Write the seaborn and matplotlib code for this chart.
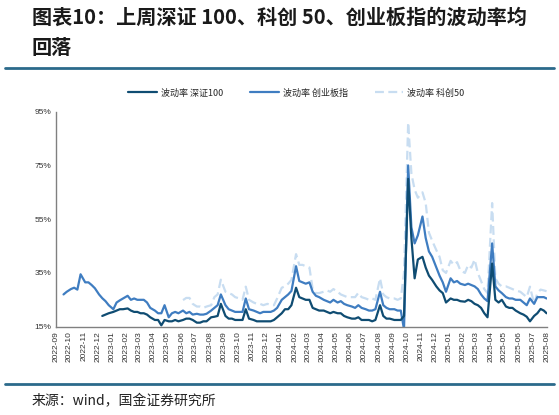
import numpy as np
import pandas as pd
import seaborn as sns
import matplotlib.pyplot as plt
import matplotlib.dates as mdates
from matplotlib.ticker import FuncFormatter

nan = np.nan

# sample days inside each month, Sep 2022 .. Jul 2025, plus the last day
months = pd.date_range('2022-09-01', '2025-07-01', freq='MS')
days = [4, 11, 18, 25]
dates = [m + pd.Timedelta(days=d - 1) for m in months for d in days] + [pd.Timestamp('2025-07-31')]

# 波动率 深证100 (%)
szse100 = [
    nan, nan, nan, nan,        # 2022-09
    nan, nan, nan, nan,        # 2022-10
    nan, nan, nan, nan,        # 2022-11
    nan, 19, 19.5, 20,         # 2022-12
    20.5, 21, 21.5, 21.5,      # 2023-01
    21.8, 21, 20.5, 20.5,
    20, 20, 19.5, 18.5,
    17.5, 17.5, 15.5, 17.5,
    17, 17, 17.5, 17,
    17.5, 18, 18, 17.5,
    16.5, 16.5, 17, 17,
    18.5, 18.7, 19, 23.5,
    19, 18, 18, 17.5,
    17.5, 17.5, 21.5, 18,
    17.5, 17, 17, 17,
    17, 17, 17.5, 18.5,        # 2023-12
    20, 21.5, 21.5, 23,        # 2024-01
    29.5, 26, 25.5, 25,
    25, 22, 21.5, 21,
    21, 20.5, 20, 20.5,
    20, 20, 19, 18.5,
    18, 18, 18.5, 17.5,
    17.5, 17.5, 17, 17.5,
    23, 19, 18, 18,
    17.5, 17.5, 17.5, 19,
    70, 48, 33, 40,
    41, 37, 34, 32.4,
    30, 28.5, 27.5, 24,        # 2024-12
    25.5, 25, 25, 24.5,        # 2025-01
    24.3, 25, 24.5, 23.5,
    23, 22, 20, 18.5,
    38.5, 25, 24, 25,
    22.5, 22, 22, 21,
    20, 19.5, 18.7, 17,
    19, 20, 21.6, 21,          # 2025-07
    20,
]

# 波动率 创业板指 (%)
chinext = [
    nan, nan, 27, 28,          # 2022-09
    29, 29.5, 28.8, 34.5,
    31.5, 31.5, 30.5, 29.3,
    27, 25.6, 24.5, 23,
    21.5, 24, 24.8, 25.5,      # 2023-01
    26.5, 25, 25.5, 25,
    25, 25, 24, 22,
    21, 20, 20, 23,
    18.5, 20, 20.5, 20,
    21, 20, 20.5, 19.5,
    19.8, 19.5, 19.5, 19.8,
    21, 22, 23, 27,
    23, 21.5, 21, 20.5,
    20.5, 20.5, 25.5, 21.5,
    21, 20.5, 20, 20.5,
    20.5, 20.5, 21, 22,
    25, 26, 27, 28.3,          # 2024-01
    37.5, 32, 31.5, 31,
    31.5, 28, 26.5, 26,
    25, 24.5, 24, 25,
    24, 24.5, 23.5, 23,
    22.5, 22, 23, 22,
    21.5, 21, 21, 21.5,
    28, 23, 22, 21.5,
    21.5, 21, 21, 14,
    75, 52, 46, 49,
    56, 48, 43, 41,
    37, 34, 31.5, 28,
    33, 31.5, 32, 31,          # 2025-01
    30.5, 31, 30.5, 30,
    29, 27, 25.5, 24.5,
    46, 30, 28.5, 27.5,
    26, 25.5, 25.5, 25,
    25, 24, 23, 25.5,
    23.5, 26, 26, 26,
    25.5,
]

# 波动率 科创50 (%)
star50 = [nan] * 36 + [
    24.9, 25.7, 25.7, 23.5,    # 2023-06
    22.5, 22.5, 22, 22.5,
    23, 26, 27, 32.5,
    28, 27.5, 27, 26,
    25.5, 25, 29.9, 25,
    24, 23.5, 23.5, 23,
    23.5, 23, 23, 25.5,
    29.5, 30, 31, 32.4,        # 2024-01
    42, 38, 38, 37.5,
    37, 29, 27.5, 27.5,
    28, 28.5, 28, 29,
    28, 27, 26.5, 26,
    26, 26, 27.6, 26,
    25.5, 25, 25.5, 25,
    33, 27, 26, 25.5,
    25.5, 25, 25.5, 35,
    91, 72, 66, 63,
    65, 61, 50, 47,
    43.5, 41, 36, 35,
    39.5, 38, 39, 36,          # 2025-01
    35, 38, 37, 40,
    35, 32, 29, 27.5,
    61, 33, 31, 30,
    30, 29.5, 29, 28.5,
    28, 27, 26, 29.9,
    23.5, 27.5, 28.8, 28.5,
    28.2,
]

names = ['波动率 深证100', '波动率 创业板指', '波动率 科创50']
colors = ['#0f4c72', '#3f7dc1', '#c8ddf1']

df = pd.concat([
    pd.DataFrame({'date': dates, 'vol': szse100, 'series': names[0]}),
    pd.DataFrame({'date': dates, 'vol': chinext, 'series': names[1]}),
    pd.DataFrame({'date': dates, 'vol': star50, 'series': names[2]}),
]).dropna()

sns.set_theme(style='white')
plt.rcParams['font.family'] = ['Noto Sans CJK SC', 'DejaVu Sans']
plt.rcParams['axes.unicode_minus'] = False

fig = plt.figure(figsize=(5.59, 4.15), dpi=100)
ax = fig.add_axes([0.0996, 0.2128, 0.879, 0.518])

# light series drawn first so the darker lines sit on top
draw_order = [names[2], names[1], names[0]]
sns.lineplot(data=df, x='date', y='vol', hue='series', style='series',
             hue_order=draw_order, style_order=draw_order,
             palette=dict(zip(names, colors)),
             dashes={names[0]: '', names[1]: '', names[2]: (4, 2)},
             linewidth=1.6, ax=ax)

ax.set_xlim(pd.Timestamp('2022-09-01'), pd.Timestamp('2025-08-01'))
ax.set_ylim(15, 95)
ax.set_yticks([15, 35, 55, 75, 95])
ax.yaxis.set_major_formatter(FuncFormatter(lambda v, p: f'{v:.0f}%'))
ax.xaxis.set_major_locator(mdates.MonthLocator())
ax.xaxis.set_major_formatter(mdates.DateFormatter('%Y-%m'))
ax.tick_params(axis='x', labelrotation=90, labelsize=6, direction='in', length=3,
               color='#808080', labelcolor='#333333', pad=3)
ax.tick_params(axis='y', labelsize=6, direction='in', length=3,
               color='#808080', labelcolor='#333333', pad=3)
for lbl in ax.get_xticklabels() + ax.get_yticklabels():
    lbl.set_fontfamily('Liberation Sans')
ax.set_xlabel('')
ax.set_ylabel('')
for side in ['top', 'right']:
    ax.spines[side].set_visible(False)
for side in ['left', 'bottom']:
    ax.spines[side].set_color('#808080')
    ax.spines[side].set_linewidth(1)

handles, labels = ax.get_legend_handles_labels()
lookup = dict(zip(labels, handles))
ax.legend([lookup[n] for n in names], names, loc='center', ncol=3,
          bbox_to_anchor=(0.53, 0.776), bbox_transform=fig.transFigure,
          frameon=False, fontsize=6.5, handlelength=3.2, columnspacing=3.0,
          handletextpad=0.4)

# header / footer
fig.text(0.057, 1 - 17 / 415, '图表10：上周深证 100、科创 50、创业板指的波动率均',
         fontsize=14.5, fontweight='bold', color='#1a1a1a', va='center', ha='left')
fig.text(0.057, 1 - 47 / 415, '回落',
         fontsize=14.5, fontweight='bold', color='#1a1a1a', va='center', ha='left')
fig.add_artist(plt.Line2D([0.009, 0.991], [1 - 68 / 415, 1 - 68 / 415],
                          transform=fig.transFigure, color='#2b6a8b', linewidth=2))
fig.add_artist(plt.Line2D([0.009, 0.991], [1 - 384 / 415, 1 - 384 / 415],
                          transform=fig.transFigure, color='#2b6a8b', linewidth=2))
fig.text(0.057, 1 - 401 / 415, '来源：wind，国金证券研究所',
         fontsize=10, color='#222222', va='center', ha='left')

fig.savefig('out.png', dpi=100)
